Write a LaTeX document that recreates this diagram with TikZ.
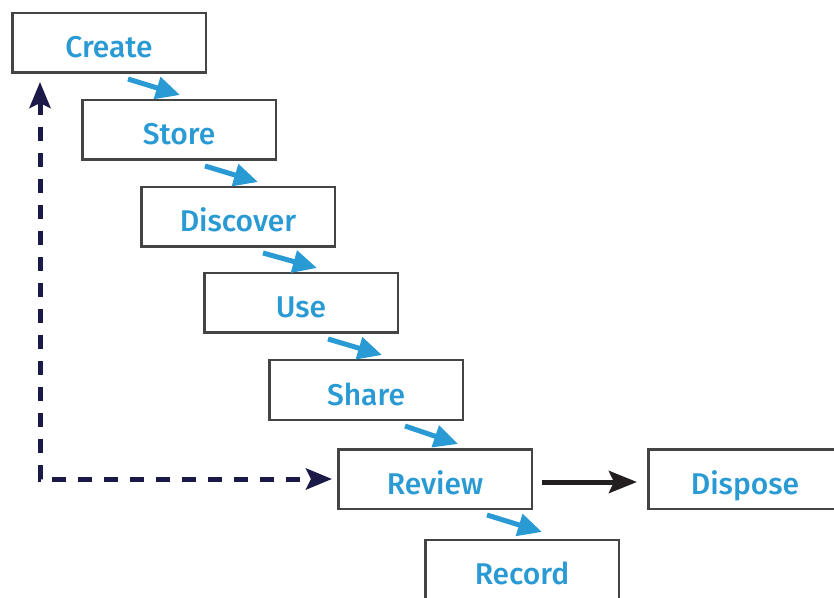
\documentclass[tikz,border=0pt]{standalone}
\usepackage{fontspec}
\setmainfont{Fira Sans Medium}
\usetikzlibrary{arrows.meta,calc}
\definecolor{stageblue}{RGB}{41,154,211}
\definecolor{loopnavy}{RGB}{26,25,72}
\definecolor{boxgray}{RGB}{68,68,68}
\definecolor{arrowblack}{RGB}{35,31,32}
\tikzset{
  stagebox/.style={draw=boxgray, line width=2.5pt, rectangle,
    minimum width=193.5pt, minimum height=59.5pt, inner sep=0pt,
    text=stageblue, font=\fontsize{30}{30}\selectfont,
    text height=30pt, text depth=0pt},
  flow/.style={draw=stageblue, line width=5pt,
    -{Triangle[length=24pt,width=22pt]}},
  loopback/.style={draw=loopnavy, line width=5pt, dash pattern=on 14pt off 12pt,
    {Stealth[length=26pt,width=21pt,inset=5pt]}-{Stealth[length=26pt,width=21pt,inset=5pt]}},
  exit/.style={draw=arrowblack, line width=5pt,
    -{Stealth[length=28pt,width=22pt,inset=5pt]}}
}
\begin{document}
\begin{tikzpicture}[x=1pt,y=1pt]
\useasboundingbox (0,0) rectangle (834,597);
\clip (0,0) rectangle (834,597);
\fill[white] (0,0) rectangle (834,597);

% stages of the cascade
\node[stagebox] (create)   at (109,554) {Create};
\node[stagebox] (store)    at (179,467) {Store};
\node[stagebox] (discover) at (238,380) {Discover};
\node[stagebox] (use)      at (301,294) {Use};
\node[stagebox] (share)    at (366,207) {Share};
\node[stagebox] (review)   at (435,118) {Review};
\node[stagebox] (dispose)  at (745,118) {Dispose};
\node[stagebox] (record)   at (522,27.5) {Record};

% step-down arrows between successive stages
\draw[flow] ($(create.south west)+(117,-5)$)   -- ($(store.north west)+(99,4)$);
\draw[flow] ($(store.south west)+(124,-5)$)    -- ($(discover.north west)+(118,4)$);
\draw[flow] ($(discover.south west)+(123,-5)$) -- ($(use.north west)+(114,4)$);
\draw[flow] ($(use.south west)+(125,-5)$)      -- ($(share.north west)+(114,4)$);
\draw[flow] ($(share.south west)+(137,-5)$)    -- ($(review.north west)+(121,4)$);
\draw[flow] ($(review.south west)+(150,-5)$)   -- ($(record.north west)+(118,6.5)$);

% review loops back to create
\coordinate (looptop) at ($(create.south west)+(29,-8)$);
\coordinate (loopend) at ($(review.west)+(-5,0)$);
\draw[loopback] (looptop) |- (loopend);

% review leads out to disposal
\draw[exit] ($(review.east)+(9,-3)$) -- ($(dispose.west)+(-10,-3)$);
\end{tikzpicture}
\end{document}
